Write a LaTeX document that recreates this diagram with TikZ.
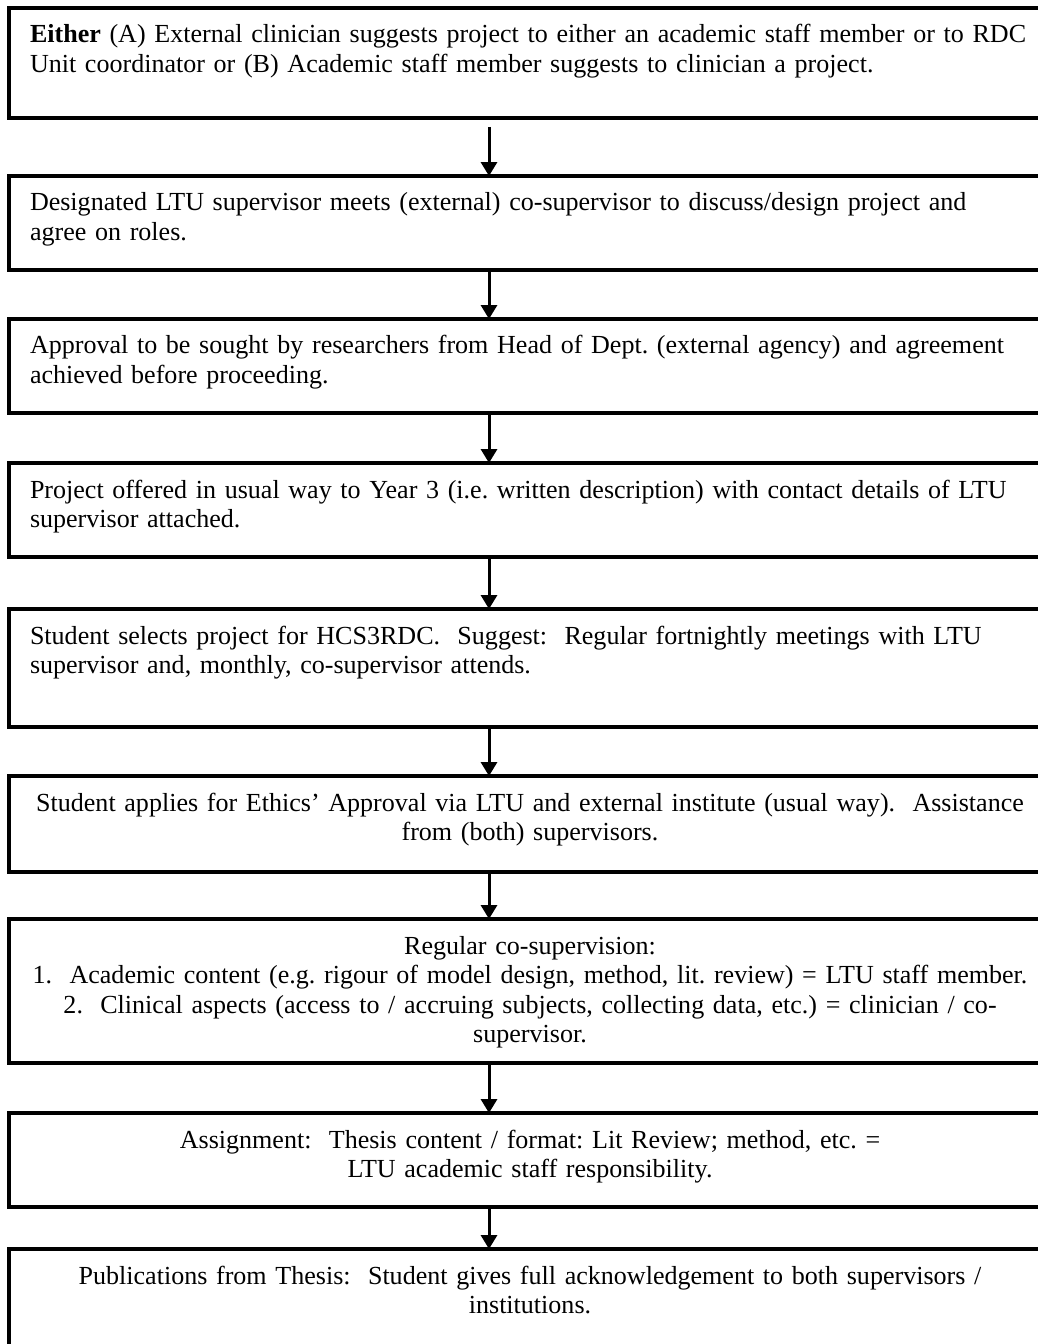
\documentclass[tikz,border=0pt]{standalone}
\usepackage{fontspec}
\setmainfont{Liberation Serif}
\usepackage{tikz}
\usetikzlibrary{arrows.meta, positioning}
\newlength{\px}
\setlength{\px}{0.48pt}
\frenchspacing
\tikzset{
  % Box styles
  stepbox/.style={rectangle, draw=black, line width=4\px, outer sep=0pt, anchor=north west, minimum width=1041\px, text width=1000\px, inner xsep=21\px, inner ysep=0pt, text height=35\px, align=left, font=\fontsize{12.5}{14.2}\selectfont},
  centrebox/.style={stepbox, align=center},
  % Arrow styles
  arrow/.style={-{Triangle[width=7.7pt, length=6.7pt]}, line width=1.44pt, black}
}

\begin{document}
\begin{tikzpicture}[x=\px, y=-\px]
  \useasboundingbox (0,0) rectangle (1038,1344);
  \clip (0,0) rectangle (1038,1344);

  % Steps of the project
  \node[stepbox, text depth=75\px] (start) at (9,8) {\textbf{Either} (A) External clinician suggests project to either an academic staff member or to RDC\\Unit coordinator or (B) Academic staff member suggests to clinician a project.};
  \node[stepbox, text depth=59\px] (design) at (9,176) {Designated LTU supervisor meets (external) co-supervisor to discuss/design project and\\agree on roles.};
  \node[stepbox, text depth=59\px] (approval) at (9,319) {Approval to be sought by researchers from Head of Dept. (external agency) and agreement\\achieved before proceeding.};
  \node[stepbox, text depth=59\px] (offer) at (9,463) {Project offered in usual way to Year 3 (i.e. written description) with contact details of LTU\\supervisor attached.};
  \node[stepbox, text depth=83\px] (select) at (9,609) {Student selects project for HCS3RDC.\ \ Suggest:\ \ Regular fortnightly meetings with LTU\\supervisor and, monthly, co-supervisor attends.};

  % Centred steps
  \node[centrebox, text depth=61\px] (ethics) at (9,776) {Student applies for Ethics' Approval via LTU and external institute (usual way).\ \ Assistance\\from (both) supervisors.};
  \node[centrebox, text depth=109\px] (cosup) at (9,919) {Regular co-supervision:\\1.\ \ Academic content (e.g. rigour of model design, method, lit. review) = LTU staff member.\\2.\ \ Clinical aspects (access to / accruing subjects, collecting data, etc.) = clinician / co-\\supervisor.};
  \node[centrebox, text depth=59\px] (thesis) at (9,1113) {Assignment:\ \ Thesis content / format: Lit Review; method, etc. =\\LTU academic staff responsibility.};
  \node[centrebox, text depth=85\px] (publish) at (9,1249) {Publications from Thesis:\ \ Student gives full acknowledgement to both supervisors /\\institutions.};

  % Arrows
  \coordinate (ax) at (489,0);
  \draw[arrow] (start.south -| ax) ++(0,9) -- (design.north -| ax);
  \draw[arrow] (design.south -| ax) -- (approval.north -| ax);
  \draw[arrow] (approval.south -| ax) -- (offer.north -| ax);
  \draw[arrow] (offer.south -| ax) -- (select.north -| ax);
  \draw[arrow] (select.south -| ax) -- (ethics.north -| ax);
  \draw[arrow] (ethics.south -| ax) -- (cosup.north -| ax);
  \draw[arrow] (cosup.south -| ax) -- (thesis.north -| ax);
  \draw[arrow] (thesis.south -| ax) -- (publish.north -| ax);
\end{tikzpicture}
\end{document}
